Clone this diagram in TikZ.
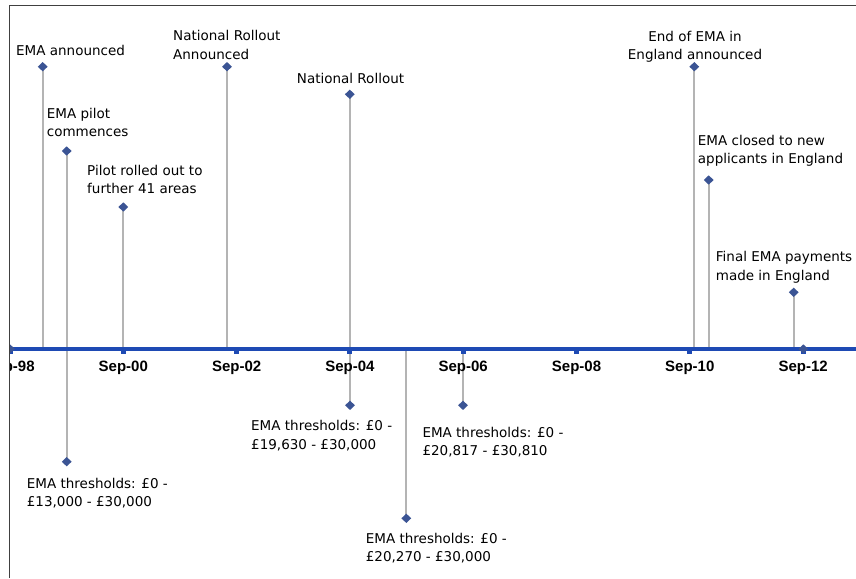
\documentclass[tikz,border=0pt]{standalone}
\usepackage{fontspec}
\setmainfont{DejaVu Sans}
\newfontfamily\axisfont{Liberation Sans}
\usetikzlibrary{shapes.geometric}
\definecolor{axisblue}{HTML}{1E4AB4}
\definecolor{mk}{HTML}{3B5494}
\definecolor{stemgrey}{HTML}{B4B4B4}
\tikzset{
  evlabel/.style={font=\fontsize{13.5}{18.5}\selectfont, inner sep=0pt, align=left, anchor=base west},
  axlabel/.style={font=\axisfont\bfseries\fontsize{15}{17}\selectfont, inner sep=0pt, anchor=base},
  stem/.style={draw=stemgrey, line width=2pt},
  mark diamond/.style={diamond, fill=mk, inner sep=0pt, minimum width=10pt, minimum height=9.5pt},
  tickbox/.style={fill=axisblue, draw=none}
}
\begin{document}
\begin{tikzpicture}[x=1pt,y=-1pt]
\useasboundingbox (0,0) rectangle (856,578);
\begin{scope}
\clip (9.7,0) rectangle (856,578);
% axis ends
\coordinate (axL) at (9.7,349);
\coordinate (axR) at (856,349);
% data points
\coordinate (p1) at (42.7,66.7);
\coordinate (p2) at (66.7,151);
\coordinate (p3) at (123.3,207);
\coordinate (p4) at (227,66.7);
\coordinate (p5) at (349.8,94.3);
\coordinate (p6) at (694.3,66.7);
\coordinate (p7) at (708.7,180);
\coordinate (p8) at (793.7,292.3);
\coordinate (p9) at (66.7,461.7);
\coordinate (p10) at (350,405.3);
\coordinate (p11) at (406.3,518.3);
\coordinate (p12) at (463,405.3);
\coordinate (p13) at (803.3,349);
\coordinate (p14) at (10,349);
% stems
\foreach \p in {p1,p2,p3,p4,p5,p6,p7,p8,p9,p10,p11,p12}
  \draw[stem] (\p) -- (\p |- axL);
% axis
\draw[draw=axisblue, line width=4.5pt] (axL) -- (axR);
% ticks
\foreach \x/\n in {10/98,123.3/00,236.6/02,349.9/04,463.2/06,576.5/08,689.8/10,803.1/12}{
  \fill[tickbox] (\x-2.5,349) rectangle (\x+2.5,353.5);
  \node[axlabel] (lab\n) at (\x,371.7) {Sep-\n};
}
% diamonds
\foreach \p in {p1,p2,p3,p4,p5,p6,p7,p8,p9,p10,p11,p12,p13,p14}
  \node[mark diamond] (m\p) at (\p) {};
\end{scope}
% border
\draw[black!75, line width=1pt] (9.7,578) -- (9.7,5.3) -- (856,5.3);
% event labels (anchor = baseline of last line)
\node[evlabel] (t1) at (16,56) {EMA announced};
\node[evlabel] (t2) at (46.7,136.8) {EMA pilot\\commences};
\node[evlabel] (t3) at (87,193.5) {Pilot rolled out to\\further 41 areas};
\node[evlabel] (t4) at (173,59.5) {National Rollout\\Announced};
\node[evlabel] (t5) at (296.7,83.3) {National Rollout};
\node[evlabel, align=center, anchor=base] (t6) at (695,59.7) {End of EMA in\\England announced};
\node[evlabel] (t7) at (697.7,163.5) {EMA closed to new\\applicants in England};
\node[evlabel] (t8) at (715.7,280.2) {Final EMA payments\\made in England};
\node[evlabel] (t9) at (26.7,506.8) {EMA thresholds: £0 -\\£13,000 - £30,000};
\node[evlabel] (t10) at (251,449.2) {EMA thresholds: £0 -\\£19,630 - £30,000};
\node[evlabel] (t11) at (365.7,561.8) {EMA thresholds: £0 -\\£20,270 - £30,000};
\node[evlabel] (t12) at (422.3,455.8) {EMA thresholds: £0 -\\£20,817 - £30,810};
\end{tikzpicture}
\end{document}
